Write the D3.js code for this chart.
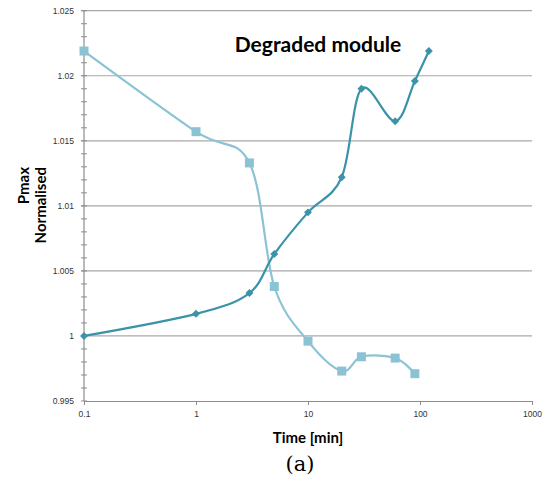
<!DOCTYPE html>
<html>
<head>
<meta charset="utf-8">
<script src="https://cdn.jsdelivr.net/npm/d3@7"></script>
<style>
    body { margin: 0; background: #fff; }
    svg { display: block; }
</style>
</head>
<body>
<svg id="chart"></svg>
<script>
// values
var diamondTimes = [0.1, 1, 3, 5, 10, 20, 30, 60, 90, 120];
var diamondValues = [1.0000, 1.0017, 1.0033, 1.0063, 1.0095, 1.0122, 1.0190, 1.0165, 1.0196, 1.0219];
var squareTimes = [0.1, 1, 3, 5, 10, 20, 30, 60, 90];
var squareValues = [1.0219, 1.0157, 1.0133, 1.0038, 0.9996, 0.9973, 0.9984, 0.9983, 0.9971];
var xTicks = [0.1, 1, 10, 100, 1000];
var yTicks = [0.995, 1, 1.005, 1.01, 1.015, 1.02, 1.025];
var yMinorTicks = d3.range(0, 31).map(function (i) { return 0.995 + i * 0.001; });

var svgW = 545, svgH = 482;
var svg = d3.select("#chart").attr("width", svgW).attr("height", svgH);

var xScale = d3.scaleLog().domain([0.1, 1000]).range([84, 532]);
var yScale = d3.scaleLinear().domain([0.995, 1.025]).range([401, 10.7]);

var gridColor = "#a8a8a8";
var axisColor = "#8c8c8c";
var darkColor = "#3a93a8";
var lightColor = "#8cc3d4";

// gridlines
svg.append("g").selectAll("line")
    .data(yTicks.slice(1))
    .enter().append("line")
    .attr("x1", 81).attr("x2", 532)
    .attr("y1", function (d) { return yScale(d); })
    .attr("y2", function (d) { return yScale(d); })
    .attr("stroke", gridColor)
    .attr("stroke-width", 1.2);

// y axis with minor ticks
var yAxisG = svg.append("g").attr("transform", "translate(84,0)");
yAxisG.append("line")
    .attr("x1", 0).attr("x2", 0)
    .attr("y1", yScale(1.025)).attr("y2", yScale(0.995))
    .attr("stroke", axisColor).attr("stroke-width", 1.2);
yAxisG.selectAll("line.minor")
    .data(yMinorTicks)
    .enter().append("line")
    .attr("class", "minor")
    .attr("x1", -3).attr("x2", 3)
    .attr("y1", function (d) { return yScale(d); })
    .attr("y2", function (d) { return yScale(d); })
    .attr("stroke", axisColor);
yAxisG.selectAll("text")
    .data(yTicks)
    .enter().append("text")
    .attr("x", -10)
    .attr("y", function (d) { return yScale(d); })
    .attr("dy", "0.35em")
    .attr("text-anchor", "end")
    .attr("font-family", "Liberation Sans, Arial, sans-serif")
    .attr("font-size", 8.5)
    .attr("fill", "#333")
    .text(function (d) { return d3.format("~g")(d); });

// x axis
var xAxis = d3.axisBottom(xScale)
    .tickValues(xTicks)
    .tickSizeInner(4)
    .tickSizeOuter(0)
    .tickPadding(6)
    .tickFormat(function (d) { return d3.format("~g")(d); });
var xAxisG = svg.append("g")
    .attr("transform", "translate(0," + yScale(0.995) + ")")
    .call(xAxis);
xAxisG.select(".domain").attr("stroke", axisColor).attr("stroke-width", 1.2);
xAxisG.selectAll(".tick line").attr("stroke", axisColor);
xAxisG.selectAll(".tick text")
    .attr("font-family", "Liberation Sans, Arial, sans-serif")
    .attr("font-size", 8.5)
    .attr("fill", "#333");

var line = d3.line()
    .x(function (d) { return xScale(d[0]); })
    .y(function (d) { return yScale(d[1]); })
    .curve(d3.curveCardinal.tension(0));

var squareData = d3.zip(squareTimes, squareValues);
var diamondData = d3.zip(diamondTimes, diamondValues);

svg.append("path")
    .datum(squareData)
    .attr("d", line)
    .attr("fill", "none")
    .attr("stroke", lightColor)
    .attr("stroke-width", 2.2);
svg.append("g").selectAll("rect")
    .data(squareData)
    .enter().append("rect")
    .attr("x", function (d) { return xScale(d[0]) - 4.5; })
    .attr("y", function (d) { return yScale(d[1]) - 4.5; })
    .attr("width", 9)
    .attr("height", 9)
    .attr("fill", lightColor);

svg.append("path")
    .datum(diamondData)
    .attr("d", line)
    .attr("fill", "none")
    .attr("stroke", darkColor)
    .attr("stroke-width", 2.2);
var diamond = d3.symbol().type(d3.symbolDiamond2).size(40);
svg.append("g").selectAll("path")
    .data(diamondData)
    .enter().append("path")
    .attr("transform", function (d) { return "translate(" + xScale(d[0]) + "," + yScale(d[1]) + ")"; })
    .attr("d", diamond)
    .attr("fill", darkColor);

// title and axis labels
svg.append("text")
    .attr("x", 318).attr("y", 52)
    .attr("text-anchor", "middle")
    .attr("font-family", "Lato, sans-serif")
    .attr("font-weight", "bold")
    .attr("font-size", 21)
    .attr("fill", "#000")
    .text("Degraded module");

var yLabel = svg.append("g").attr("font-family", "Lato, sans-serif")
    .attr("font-weight", "bold").attr("font-size", 15).attr("fill", "#000")
    .attr("text-anchor", "end");
yLabel.append("text")
    .attr("transform", "translate(29,167) rotate(-90)")
    .text("Pmax");
yLabel.append("text")
    .attr("transform", "translate(46,167) rotate(-90)")
    .text("Normalised");

svg.append("text")
    .attr("x", 308).attr("y", 443)
    .attr("text-anchor", "middle")
    .attr("font-family", "Lato, sans-serif")
    .attr("font-weight", "bold")
    .attr("font-size", 15)
    .attr("fill", "#000")
    .text("Time [min]");

svg.append("text")
    .attr("x", 300).attr("y", 471)
    .attr("text-anchor", "middle")
    .attr("font-family", "DejaVu Serif, serif")
    .attr("font-size", 21)
    .attr("fill", "#000")
    .text("(a)");
</script>
</body>
</html>
